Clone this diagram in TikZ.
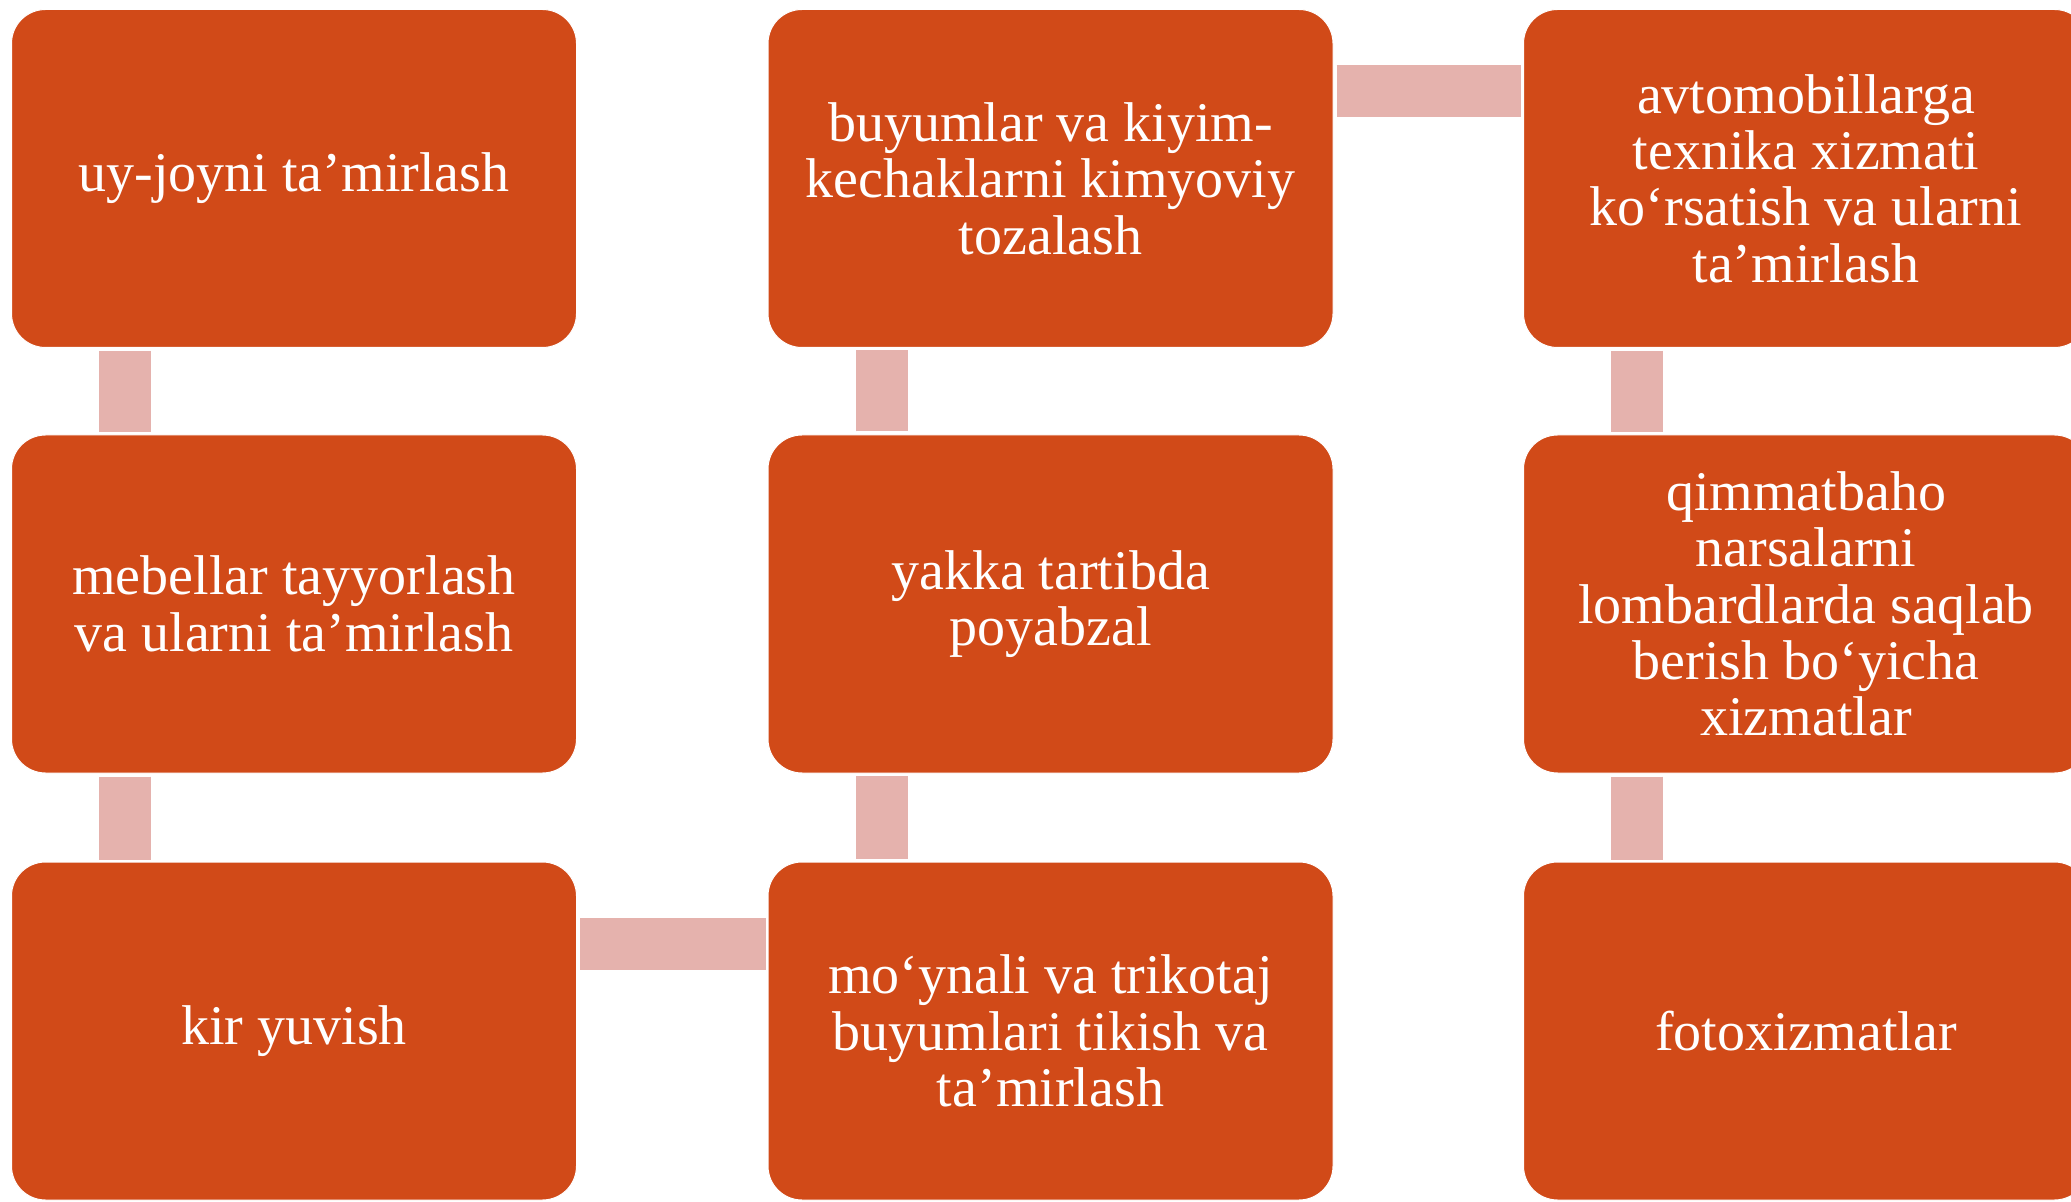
\documentclass[tikz,border=0pt]{standalone}
\usepackage{fontspec}
\setmainfont{Liberation Serif}
\definecolor{boxc}{HTML}{D14A18}
\definecolor{connc}{HTML}{E5B2AD}
\begin{document}
\begin{tikzpicture}[x=0.5pt,y=-0.5pt,
  box/.style={rectangle, rounded corners=17pt, fill=boxc, draw=white, line width=0.5pt,
    minimum width=282.5pt, minimum height=169pt, text=white,
    font=\fontsize{28}{28.2}\selectfont, align=center, inner sep=0pt},
  conn/.style={draw=connc, line width=26pt, line cap=butt, shorten <=1.5pt, shorten >=1pt}]
\clip (0,0) rectangle (2071,1202);
\fill[white] (0,0) rectangle (2071,1202);
\node[box] (b1) at (294,178.5) {uy-joyni ta’mirlash};
\node[box] (b2) at (294,604) {mebellar tayyorlash\\va ularni ta’mirlash};
\node[box] (b3) at (294,1031) {kir yuvish};
\node[box] (b4) at (1050.5,178.5) {buyumlar va kiyim-\\kechaklarni kimyoviy\\tozalash};
\node[box] (b5) at (1050.5,604) {yakka tartibda\\poyabzal};
\node[box] (b6) at (1050.5,1031) {mo‘ynali va trikotaj\\buyumlari tikish va\\ta’mirlash};
\node[box] (b7) at (1806,178.5) {avtomobillarga\\texnika xizmati\\ko‘rsatish va ularni\\ta’mirlash};
\node[box] (b8) at (1806,604) {qimmatbaho\\narsalarni\\lombardlarda saqlab\\berish bo‘yicha\\xizmatlar};
\node[box] (b9) at (1806,1031) {fotoxizmatlar};
\draw[conn] ([xshift=57pt]b1.south west) -- ([xshift=57pt]b2.north west);
\draw[conn] ([xshift=57pt]b2.south west) -- ([xshift=57pt]b3.north west);
\draw[conn] ([yshift=-41pt]b3.north east) -- ([yshift=-41pt]b6.north west);
\draw[conn] ([xshift=57pt]b6.north west) -- ([xshift=57pt]b5.south west);
\draw[conn] ([xshift=57pt]b5.north west) -- ([xshift=57pt]b4.south west);
\draw[conn] ([yshift=-41pt]b4.north east) -- ([yshift=-41pt]b7.north west);
\draw[conn] ([xshift=57pt]b7.south west) -- ([xshift=57pt]b8.north west);
\draw[conn] ([xshift=57pt]b8.south west) -- ([xshift=57pt]b9.north west);
\end{tikzpicture}
\end{document}
